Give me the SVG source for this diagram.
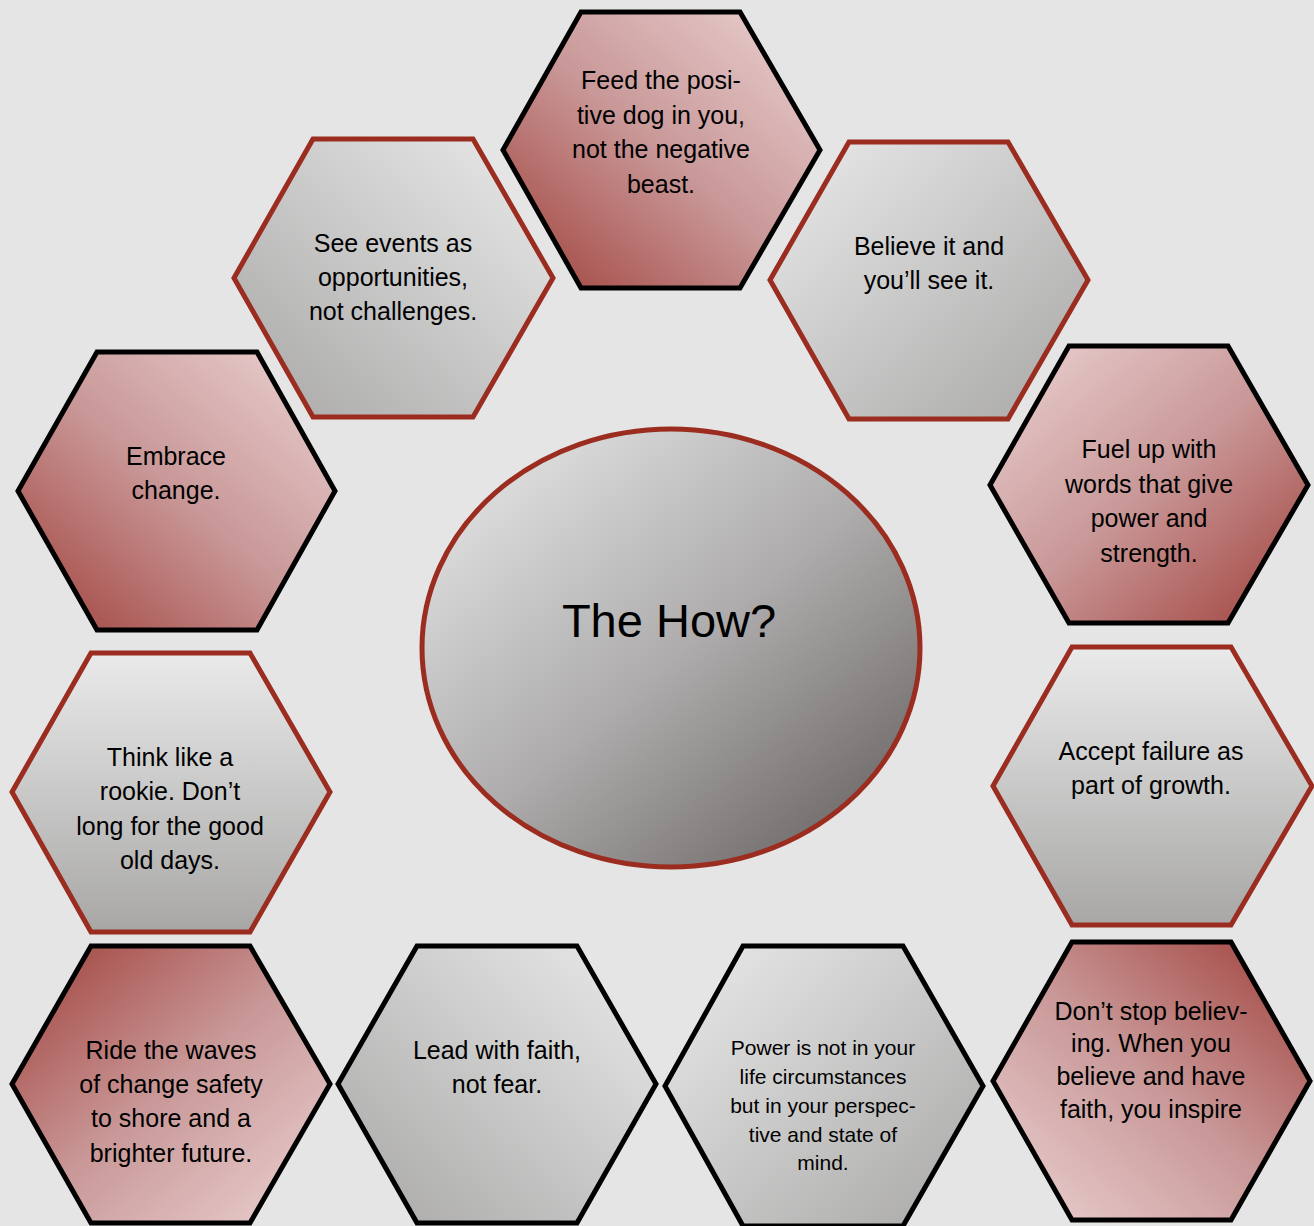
<svg xmlns="http://www.w3.org/2000/svg" width="1314" height="1226" viewBox="0 0 1314 1226">
<defs>
<linearGradient id="red" x1="0" y1="1" x2="1" y2="0"><stop offset="0" stop-color="#9f3f39"/><stop offset="0.5" stop-color="#c99898"/><stop offset="1" stop-color="#ecd3d3"/></linearGradient>
<linearGradient id="redBL" href="#red" x1="0" y1="1" x2="1" y2="0"/>
<linearGradient id="redBR" href="#red" x1="1" y1="1" x2="0" y2="0"/>
<linearGradient id="redTL" href="#red" x1="0" y1="0" x2="1" y2="1"/>
<linearGradient id="redTR" href="#red" x1="1" y1="0" x2="0" y2="1"/>
<linearGradient id="gray" x1="0" y1="1" x2="1" y2="0"><stop offset="0" stop-color="#a8a7a6"/><stop offset="1" stop-color="#eaeaea"/></linearGradient>
<linearGradient id="grayBL" href="#gray" x1="0" y1="1" x2="1" y2="0"/>
<linearGradient id="grayBR" href="#gray" x1="1" y1="1" x2="0" y2="0"/>
<linearGradient id="grayB" href="#gray" x1="0" y1="1" x2="0" y2="0"/>
<linearGradient id="ell" x1="0.1" y1="0.1" x2="0.9" y2="0.95"><stop offset="0" stop-color="#e0e0e0"/><stop offset="0.5" stop-color="#aeacac"/><stop offset="1" stop-color="#6b6665"/></linearGradient>
</defs>
<style>
.hk{stroke:#000;stroke-width:5;stroke-linejoin:miter}
.hr{stroke:#9b2c20;stroke-width:5;stroke-linejoin:miter}
text{font-family:"Liberation Sans",Arial,sans-serif;font-size:25px;fill:#000;text-anchor:middle}
.sm{font-size:21px}
.big{font-size:47px}
</style>
<rect width="1314" height="1226" fill="#e5e5e5"/>
<g id="connectors"/>
<g id="center">
<ellipse cx="671" cy="648" rx="249" ry="219" fill="url(#ell)" stroke="#9b2c20" stroke-width="5"/>
<text class="big" x="669" y="637">The How?</text>
</g>
<g id="n-feed">
<polygon class="hk" fill="url(#redBL)" points="581,12 740,12 820,150 740,288 581,288 503,150"/>
<text x="661"><tspan x="661" y="89">Feed the posi-</tspan><tspan x="661" y="123.5">tive dog in you,</tspan><tspan x="661" y="158">not the negative</tspan><tspan x="661" y="192.5">beast.</tspan></text>
</g>
<g id="n-see">
<polygon class="hr" fill="url(#grayBL)" points="313,139 473,139 553,278 473,417 313,417 234,278"/>
<text><tspan x="393" y="252">See events as</tspan><tspan x="393" y="286">opportunities,</tspan><tspan x="393" y="320">not challenges.</tspan></text>
</g>
<g id="n-believe">
<polygon class="hr" fill="url(#grayBR)" points="849,142 1008,142 1088,280 1008,419 849,419 770,280"/>
<text><tspan x="929" y="255">Believe it and</tspan><tspan x="929" y="289">you’ll see it.</tspan></text>
</g>
<g id="n-embrace">
<polygon class="hk" fill="url(#redBL)" points="97,352 257,352 335,491 257,630 97,630 18,491"/>
<text><tspan x="176" y="465">Embrace</tspan><tspan x="176" y="499">change.</tspan></text>
</g>
<g id="n-fuel">
<polygon class="hk" fill="url(#redBR)" points="1069,346 1228,346 1308,485 1228,623 1069,623 990,485"/>
<text><tspan x="1149" y="458">Fuel up with</tspan><tspan x="1149" y="493">words that give</tspan><tspan x="1149" y="527">power and</tspan><tspan x="1149" y="562">strength.</tspan></text>
</g>
<g id="n-think">
<polygon class="hr" fill="url(#grayB)" points="91,653 250,653 330,792 250,932 91,932 12,792"/>
<text><tspan x="170" y="766">Think like a</tspan><tspan x="170" y="800">rookie. Don’t</tspan><tspan x="170" y="835">long for the good</tspan><tspan x="170" y="869">old days.</tspan></text>
</g>
<g id="n-accept">
<polygon class="hr" fill="url(#grayB)" points="1072,647 1231,647 1312,786 1231,925 1072,925 993,786"/>
<text><tspan x="1151" y="760">Accept failure as</tspan><tspan x="1151" y="794">part of growth.</tspan></text>
</g>
<g id="n-ride">
<polygon class="hk" fill="url(#redTL)" points="91,946 250,946 330,1084 250,1223 91,1223 12,1084"/>
<text><tspan x="171" y="1059">Ride the waves</tspan><tspan x="171" y="1093">of change safety</tspan><tspan x="171" y="1127">to shore and a</tspan><tspan x="171" y="1162">brighter future.</tspan></text>
</g>
<g id="n-lead">
<polygon class="hk" fill="url(#grayBL)" points="417,946 577,946 656,1084 577,1223 417,1223 338,1084"/>
<text><tspan x="497" y="1059">Lead with faith,</tspan><tspan x="497" y="1093">not fear.</tspan></text>
</g>
<g id="n-power">
<polygon class="hk" fill="url(#grayBR)" points="743,946 903,946 983,1086 903,1226 743,1226 665,1086"/>
<text class="sm"><tspan x="823" y="1055">Power is not in your</tspan><tspan x="823" y="1084">life circumstances</tspan><tspan x="823" y="1113">but in your perspec-</tspan><tspan x="823" y="1142">tive and state of</tspan><tspan x="823" y="1170">mind.</tspan></text>
</g>
<g id="n-dont">
<polygon class="hk" fill="url(#redTR)" points="1072,942 1231,942 1310,1081 1231,1220 1072,1220 993,1081"/>
<text><tspan x="1151" y="1019.5">Don’t stop believ-</tspan><tspan x="1151" y="1051.5">ing. When you</tspan><tspan x="1151" y="1084.5">believe and have</tspan><tspan x="1151" y="1117.5">faith, you inspire</tspan></text>
</g>
</svg>
